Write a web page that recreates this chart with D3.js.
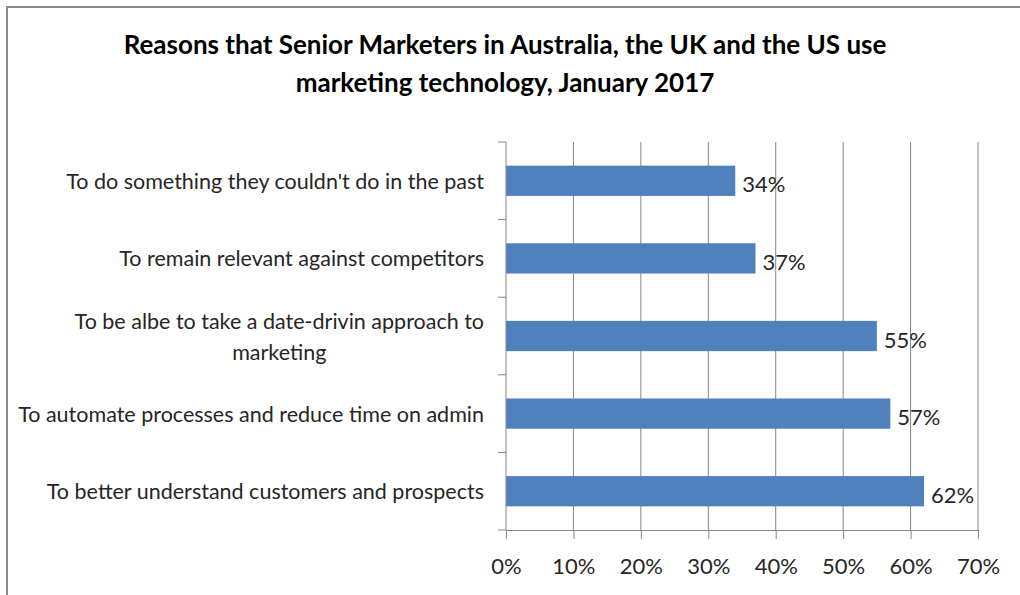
<!DOCTYPE html>
<html>
<head>
<meta charset="utf-8">
<script src="https://cdn.jsdelivr.net/npm/d3@7"></script>
<style>
  body { margin: 0; background: #fff; }
  svg text { font-family: Lato, "Open Sans", sans-serif; }
</style>
</head>
<body>
<div id="chart"></div>
<script>
// chart data
const titleLines = ["Reasons that Senior Marketers in Australia, the UK and the US use",
                    "marketing technology, January 2017"];
const categories = [
    ["To do something they couldn't do in the past"],
    ["To remain relevant against competitors"],
    ["To be albe to take a date-drivin approach to", "marketing"],
    ["To automate processes and reduce time on admin"],
    ["To better understand customers and prospects"]
];
const values = [0.34, 0.37, 0.55, 0.57, 0.62];
const xTicks = [0, 0.1, 0.2, 0.3, 0.4, 0.5, 0.6, 0.7];

const width = 1020, height = 595;
const margin = {top: 142, right: 42, bottom: 65, left: 506};
const gridColor = "#868686";

const svg = d3.select("#chart")
    .append("svg")
    .attr("width", width)
    .attr("height", height);

svg.append("rect").attr("width", width).attr("height", height).attr("fill", "#fff");

// outer border (only top and left visible)
svg.append("path")
    .attr("d", `M7,${height} V7 H${width}`)
    .attr("fill", "none")
    .attr("stroke", "#8c8c8c")
    .attr("stroke-width", 2);

// title
svg.append("text")
    .attr("x", 505)
    .attr("y", 54)
    .attr("text-anchor", "middle")
    .style("font-size", "26px")
    .style("font-weight", "bold")
    .attr("fill", "#000")
    .selectAll("tspan")
    .data(titleLines)
    .join("tspan")
    .attr("x", 505)
    .attr("dy", (d, i) => i === 0 ? 0 : 38)
    .text(d => d);

const x = d3.scaleLinear()
    .domain([0, 0.7])
    .range([margin.left, width - margin.right]);

const keys = categories.map(d => d.join(" "));
const y = d3.scaleBand()
    .domain(keys)
    .range([margin.top, height - margin.bottom])
    .paddingInner(0.61)
    .paddingOuter(0.305);

// gridlines
svg.append("g")
    .selectAll("line")
    .data(xTicks.slice(1))
    .join("line")
    .attr("x1", d => x(d)).attr("x2", d => x(d))
    .attr("y1", margin.top).attr("y2", height - margin.bottom)
    .attr("stroke", gridColor)
    .attr("stroke-width", 1);

// bars
svg.append("g")
    .selectAll("rect")
    .data(values)
    .join("rect")
    .attr("x", x(0))
    .attr("y", (d, i) => y(keys[i]))
    .attr("width", d => x(d) - x(0))
    .attr("height", y.bandwidth())
    .attr("fill", "#4f81bd");

// x axis
const xAxis = svg.append("g")
    .attr("transform", `translate(0, ${height - margin.bottom})`)
    .call(d3.axisBottom(x).tickValues(xTicks).tickFormat(d3.format(".0%")).tickSize(9).tickPadding(19));
xAxis.select(".domain").attr("stroke", gridColor);
xAxis.selectAll(".tick line").attr("stroke", gridColor);
xAxis.selectAll(".tick text")
    .style("font-size", "22px")
    .attr("fill", "#262626")
    .style("font-family", "Lato, Open Sans, sans-serif");

// y axis: line with ticks at category boundaries
const step = y.step();
const bounds = d3.range(keys.length + 1).map(i => margin.top + i * step);
svg.append("line")
    .attr("x1", x(0)).attr("x2", x(0))
    .attr("y1", margin.top).attr("y2", height - margin.bottom)
    .attr("stroke", gridColor);
svg.append("g")
    .selectAll("line")
    .data(bounds)
    .join("line")
    .attr("x1", x(0) - 8).attr("x2", x(0))
    .attr("y1", d => d).attr("y2", d => d)
    .attr("stroke", gridColor);

// category labels
const lineH = 31;
const labelRight = x(0) - 22;
const labels = svg.append("g")
    .selectAll("text")
    .data(categories)
    .join("text")
    .style("font-size", "21.5px")
    .attr("fill", "#262626");

labels.each(function(lines, i) {
    const t = d3.select(this);
    const cy = y(keys[i]) + y.bandwidth() / 2;
    const y0 = cy - (lines.length - 1) * lineH / 2;
    const spans = t.selectAll("tspan")
        .data(lines)
        .join("tspan")
        .attr("x", labelRight)
        .attr("y", (d, j) => y0 + j * lineH)
        .attr("dominant-baseline", "central")
        .text(d => d);
    if (lines.length === 1) {
        t.attr("text-anchor", "end");
    } else {
        // wrapped labels are centred on their widest line
        const w = d3.max(spans.nodes(), n => n.getComputedTextLength());
        t.attr("text-anchor", "middle");
        spans.attr("x", labelRight - w / 2);
    }
});

// value labels
svg.append("g")
    .selectAll("text")
    .data(values)
    .join("text")
    .attr("x", d => x(d) + 7)
    .attr("y", (d, i) => y(keys[i]) + y.bandwidth() / 2 + 3)
    .attr("dominant-baseline", "central")
    .style("font-size", "22px")
    .attr("fill", "#262626")
    .text(d => d3.format(".0%")(d));
</script>
</body>
</html>
